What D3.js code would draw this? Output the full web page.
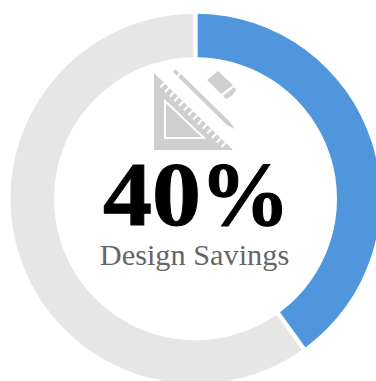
<!DOCTYPE html>
<html>
<head>
<meta charset="utf-8">
<script src="https://cdn.jsdelivr.net/npm/d3@7/dist/d3.min.js"></script>
<style>
html,body{margin:0;padding:0;background:#fff;overflow:hidden}
svg{display:block}
</style>
</head>
<body>
<script>
// Share of design savings and the remainder of the ring
const categories = ["Savings", "Remainder"];
const shares = [40, 60];
const ringColors = ["#4f96dc", "#e6e6e6"];
const headlineValue = "40";
const headlineUnit = "%";
const caption = "Design Savings";

const width = 376, height = 381;
const cx = 195.5, cy = 198.7, outer = 185, inner = 141.5;

const svg = d3.select("body").append("svg")
  .attr("width", width).attr("height", height);

const pie = d3.pie().sort(null).padAngle(0.019)(shares);
const arc = d3.arc().innerRadius(inner).outerRadius(outer);

svg.append("g").attr("transform", `translate(${cx},${cy})`)
  .selectAll("path").data(pie).join("path")
  .attr("d", arc)
  .attr("fill", (d, i) => ringColors[i]);

// Drafting icon: set square, pencil and eraser
const icon = svg.append("g");
const iconGrey = "#cfcfcf";
const poly = pts => pts.map(p => p.join(",")).join(" ");

icon.append("polygon")
  .attr("points", poly([[154,73],[233,150],[154,150]]))
  .attr("fill", iconGrey);
icon.append("polygon")
  .attr("points", poly([[165,101],[204,138],[165,138]]))
  .attr("fill", "none").attr("stroke", "#fff").attr("stroke-width", 2);

// Scale notches cut into the hypotenuse
d3.range(0, 14).forEach(i => {
  const x = 164.5 + i * 4.7, y = 83 + i * 4.6;
  icon.append("line")
    .attr("x1", x).attr("y1", y)
    .attr("x2", x - 4.2).attr("y2", y + 4.4)
    .attr("stroke", "#fff").attr("stroke-width", 2.2);
});

// Pencil: cap, then body running to the point
icon.append("polygon")
  .attr("points", poly([[175,69],[179,73],[177,76],[173,72]]))
  .attr("fill", iconGrey);
icon.append("polygon")
  .attr("points", poly([[181,74],[230,122],[235,129],[227,125],[178,77]]))
  .attr("fill", iconGrey);

// Eraser with its separate rounded sleeve
icon.append("polygon")
  .attr("points", poly([[207,80],[218,71],[233,85],[221,94]]))
  .attr("fill", iconGrey);
icon.append("path")
  .attr("d", "M223,96 L234,87 L236,89 Q234,96 226,99 Z")
  .attr("fill", iconGrey);

// Headline: digits set slightly wider than the percent sign
const bigText = (x, label) => svg.append("text")
  .attr("x", x).attr("y", 225)
  .attr("font-family", "'Liberation Serif', serif")
  .attr("font-weight", 700).attr("font-size", 90)
  .attr("fill", "#000").attr("stroke", "#000").attr("stroke-width", 1)
  .text(label);
bigText(103, headlineValue)
  .attr("textLength", 98).attr("lengthAdjust", "spacingAndGlyphs");
bigText(200, headlineUnit);

svg.append("text")
  .attr("x", 194.5).attr("y", 264.5)
  .attr("text-anchor", "middle")
  .attr("font-family", "'Liberation Serif', serif")
  .attr("font-size", 30.3)
  .attr("fill", "#666")
  .text(caption);
</script>
</body>
</html>
